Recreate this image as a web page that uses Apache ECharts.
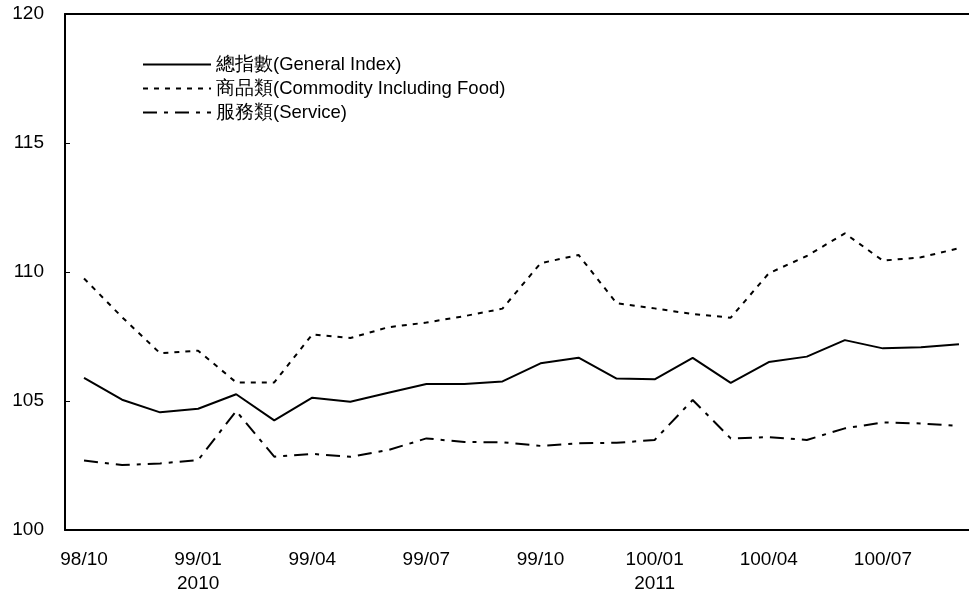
<!DOCTYPE html>
<html>
<head>
<meta charset="utf-8">
<script src="https://cdn.jsdelivr.net/npm/echarts@6/dist/echarts.min.js"></script>
<style>html,body{margin:0;padding:0;background:#fff;overflow:hidden;}#c{width:990px;height:592px;}</style>
</head>
<body>
<div id="c"></div>
<script>
const categories = ['98/10','98/11','98/12','99/01','99/02','99/03','99/04','99/05','99/06','99/07','99/08','99/09',
  '99/10','99/11','99/12','100/01','100/02','100/03','100/04','100/05','100/06','100/07','100/08','100/09'];
const yearLabels = {'99/01':'2010','100/01':'2011'};
const generalIndex = [105.9,105.05,104.56,104.7,105.26,104.25,105.13,104.97,105.32,105.66,105.66,105.76,
  106.46,106.68,105.87,105.84,106.67,105.7,106.51,106.72,107.36,107.04,107.08,107.2];
const commodity = [109.75,108.25,106.85,106.95,105.72,105.72,107.58,107.44,107.86,108.04,108.29,108.58,
  110.34,110.66,108.79,108.59,108.37,108.23,109.95,110.62,111.5,110.44,110.57,110.92];
const service = [102.69,102.52,102.58,102.71,104.61,102.84,102.95,102.84,103.1,103.55,103.41,103.4,
  103.26,103.36,103.38,103.49,105.04,103.55,103.6,103.49,103.94,104.17,104.13,104.03];
const seriesNames = ['總指數(General Index)','商品類(Commodity Including Food)','服務類(Service)'];

const font = '"Liberation Sans", Arial, sans-serif';
const chart = echarts.init(document.getElementById('c'));
function mk(name, data, type) {
  return {name, type:'line', data, symbol:'none', smooth:false, xAxisIndex:0,
    lineStyle:{color:'#000', width:2, type},
    itemStyle:{color:'#000'}};
}
chart.setOption({
  animation:false,
  backgroundColor:'#fff',
  grid:{left:65, top:14, width:913, height:516, show:false, containLabel:false, outerBoundsMode:'none'},
  legend:{
    orient:'vertical', left:142, top:55, padding:0, itemWidth:68, itemHeight:14, itemGap:5,
    itemStyle:{opacity:0},
    textStyle:{fontFamily:font, fontSize:18.5, color:'#000'},
    data: seriesNames
  },
  xAxis:[{
    type:'category', data:categories, boundaryGap:true, position:'bottom',
    axisLine:{lineStyle:{color:'#000', width:2}},
    axisTick:{inside:true, length:5, interval:0, lineStyle:{color:'#000', width:1}},
    axisLabel:{interval:2, margin:18, color:'#000', fontFamily:font, fontSize:19, lineHeight:24,
      formatter:v => yearLabels[v] ? v + '\n' + yearLabels[v] : v},
    splitLine:{show:false}
  },{
    type:'category', data:categories, position:'top',
    axisLine:{show:true, onZero:false, lineStyle:{color:'#000', width:2}},
    axisTick:{show:false}, axisLabel:{show:false}, splitLine:{show:false}
  }],
  yAxis:{
    type:'value', min:100, max:120, interval:5,
    axisLine:{show:true, lineStyle:{color:'#000', width:2}},
    axisTick:{show:true, inside:true, length:5, lineStyle:{color:'#000', width:1}},
    axisLabel:{margin:21, color:'#000', fontFamily:font, fontSize:19},
    splitLine:{show:false}
  },
  series:[
    mk(seriesNames[0], generalIndex, 'solid'),
    mk(seriesNames[1], commodity, [5,6]),
    mk(seriesNames[2], service, [14,7,4,7])
  ]
});
</script>
</body>
</html>
